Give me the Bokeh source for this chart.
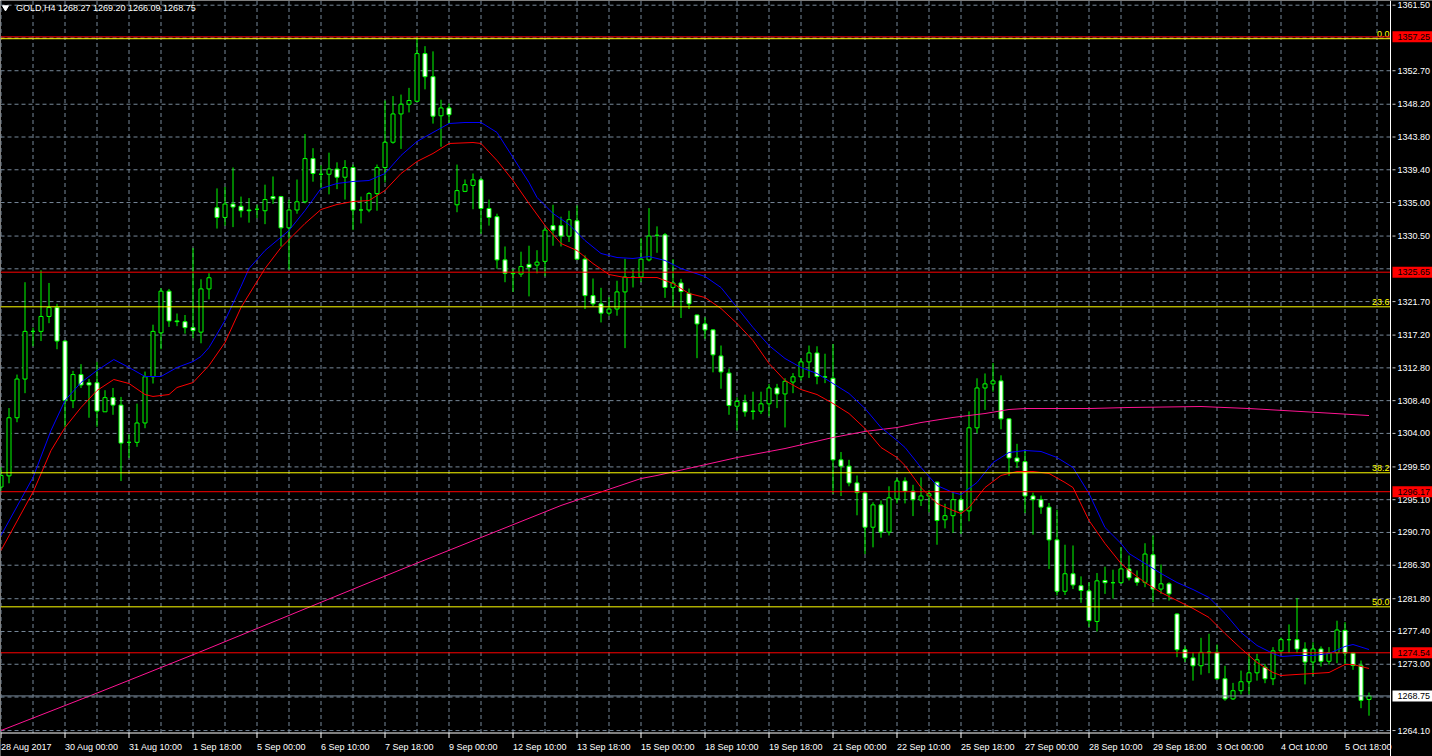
from bokeh.plotting import figure
from bokeh.models import Range1d, ColumnDataSource
from bokeh.embed import file_html
from bokeh.resources import INLINE
from bokeh.core.properties import value

# ---------------- data (GOLD, H4) ----------------
opens = [1296.8, 1298.3, 1306.1, 1311.3, 1317.7, 1317.7, 1319.7, 1320.9, 1316.4, 1308.4,
         1311.9, 1310.8, 1310.8, 1306.9, 1308.8, 1307.8, 1302.8, 1302.8, 1305.4, 1311.6,
         1317.5, 1323.1, 1319.1, 1319.0, 1318.2, 1317.6, 1323.4, 1334.3, 1333.0, 1334.8,
         1334.5, 1334.0, 1334.1, 1333.9, 1335.8, 1335.8, 1331.6, 1334.0, 1335.1, 1340.9,
         1338.8, 1338.8, 1339.5, 1338.4, 1339.7, 1334.0, 1334.0, 1336.2, 1339.7, 1343.1,
         1346.9, 1348.2, 1348.6, 1355.0, 1351.9, 1346.65, 1347.7, 1334.7, 1336.5, 1337.3,
         1338.05, 1334.2, 1333.1, 1327.3, 1325.5, 1325.4, 1326.7, 1326.6, 1327.1, 1331.9,
         1331.9, 1330.5, 1332.55, 1327.4, 1322.5, 1321.4, 1320.15, 1320.7, 1323.0, 1325.0,
         1325.0, 1327.3, 1330.6, 1330.66, 1323.6, 1324.2, 1322.8, 1319.9, 1318.7, 1317.9,
         1314.4, 1312.1, 1307.65, 1308.2, 1307.0, 1306.98, 1307.97, 1310.1, 1309.3, 1310.9,
         1311.6, 1313.6, 1314.8, 1311.6, 1311.4, 1300.45, 1299.6, 1297.35, 1296.0, 1291.4,
         1294.4, 1290.75, 1295.2, 1297.6, 1296.25, 1295.05, 1295.6, 1297.45, 1292.4, 1292.95,
         1295.1, 1293.6, 1304.75, 1310.1, 1310.65, 1311.05, 1305.95, 1300.7, 1300.2, 1295.6,
         1295.1, 1294.1, 1289.7, 1282.8, 1285.15, 1283.55, 1282.85, 1278.75, 1284.25, 1283.95,
         1283.95, 1285.8, 1284.6, 1284.0, 1287.7, 1283.1, 1283.8, 1279.75, 1274.95, 1273.85,
         1272.8, 1274.55, 1274.6, 1271.05, 1268.35, 1269.45, 1270.65, 1271.85, 1272.6, 1271.05,
         1274.8, 1276.3, 1276.3, 1275.05, 1273.3, 1275.05, 1273.4, 1274.55, 1277.55, 1274.5,
         1272.8, 1268.27]
highs = [1299.5, 1307.4, 1311.9, 1324.3, 1318.2, 1325.9, 1324.2, 1321.4, 1316.5, 1312.4,
         1313.3, 1311.3, 1313.6, 1309.8, 1310.1, 1308.9, 1303.9, 1308.0, 1312.3, 1318.6,
         1323.5, 1323.4, 1320.1, 1319.9, 1328.9, 1324.7, 1325.5, 1336.9, 1337.1, 1339.7,
         1335.8, 1335.6, 1334.7, 1337.4, 1338.5, 1335.9, 1335.4, 1338.1, 1344.2, 1342.3,
         1340.0, 1341.7, 1340.4, 1340.7, 1340.1, 1335.8, 1336.4, 1340.1, 1348.7, 1349.3,
         1349.5, 1350.4, 1357.25, 1356.0, 1355.3, 1348.8, 1348.3, 1340.1, 1338.1, 1338.9,
         1338.3, 1335.4, 1333.5, 1329.1, 1326.1, 1328.4, 1329.2, 1328.6, 1331.6, 1334.7,
         1333.1, 1333.9, 1334.6, 1327.9, 1324.8, 1323.55, 1322.3, 1324.5, 1327.45, 1326.0,
         1330.2, 1334.25, 1331.8, 1330.9, 1327.4, 1324.75, 1323.45, 1319.96, 1319.6, 1318.0,
         1315.8, 1312.7, 1308.85, 1309.2, 1309.6, 1309.6, 1310.65, 1310.65, 1311.4, 1312.1,
         1314.1, 1315.8, 1315.7, 1314.7, 1316.0, 1301.5, 1300.45, 1298.35, 1296.1, 1294.75,
         1295.0, 1296.9, 1298.0, 1298.1, 1297.1, 1298.1, 1296.4, 1297.55, 1294.55, 1296.25,
         1296.1, 1306.95, 1311.4, 1312.05, 1313.45, 1311.8, 1306.05, 1302.6, 1301.7, 1296.05,
         1295.65, 1294.65, 1293.75, 1289.05, 1288.95, 1284.8, 1284.0, 1285.25, 1286.1, 1285.7,
         1288.7, 1287.6, 1285.6, 1289.25, 1290.3, 1286.4, 1284.0, 1279.85, 1275.4, 1274.6,
         1276.55, 1277.1, 1275.65, 1272.8, 1270.5, 1272.15, 1274.4, 1274.4, 1273.05, 1275.3,
         1276.6, 1278.35, 1281.9, 1275.95, 1275.95, 1275.4, 1275.3, 1278.85, 1278.65, 1274.6,
         1273.5, 1269.20]
lows = [1296.3, 1297.3, 1305.5, 1309.4, 1315.7, 1316.4, 1318.8, 1315.3, 1304.8, 1307.4,
        1310.1, 1306.1, 1304.9, 1306.9, 1306.5, 1297.6, 1300.7, 1302.2, 1304.7, 1310.7,
        1315.3, 1318.3, 1318.4, 1317.4, 1316.8, 1316.1, 1322.0, 1331.5, 1331.9, 1331.7,
        1333.0, 1332.3, 1332.9, 1332.1, 1334.8, 1329.1, 1326.0, 1333.5, 1334.9, 1337.8,
        1336.9, 1336.1, 1336.8, 1335.4, 1331.3, 1332.2, 1333.7, 1333.9, 1337.7, 1342.9,
        1342.2, 1347.1, 1348.5, 1350.2, 1345.6, 1342.5, 1345.6, 1333.7, 1336.4, 1334.1,
        1330.8, 1331.9, 1326.1, 1324.3, 1323.0, 1325.0, 1322.4, 1325.5, 1325.1, 1329.2,
        1329.1, 1329.7, 1327.3, 1320.7, 1321.05, 1318.9, 1319.8, 1319.8, 1315.45, 1323.6,
        1324.3, 1327.1, 1328.25, 1322.2, 1320.95, 1319.5, 1320.7, 1314.1, 1316.7, 1312.2,
        1310.0, 1306.5, 1304.4, 1306.25, 1305.85, 1306.6, 1306.3, 1307.4, 1304.8, 1309.4,
        1311.1, 1311.45, 1310.6, 1310.75, 1295.9, 1295.6, 1296.9, 1293.0, 1287.8, 1288.7,
        1290.0, 1290.3, 1294.6, 1294.6, 1292.9, 1294.25, 1293.4, 1289.05, 1291.25, 1290.65,
        1290.5, 1292.2, 1304.0, 1307.15, 1309.6, 1304.55, 1298.3, 1299.35, 1293.3, 1290.4,
        1293.2, 1285.8, 1282.25, 1282.3, 1283.1, 1281.25, 1278.0, 1277.4, 1282.45, 1281.8,
        1283.8, 1284.25, 1283.55, 1283.35, 1281.35, 1282.45, 1281.55, 1273.95, 1273.3, 1270.8,
        1271.6, 1271.8, 1270.9, 1268.1, 1268.2, 1268.95, 1268.95, 1270.8, 1270.45, 1270.2,
        1274.5, 1274.5, 1274.5, 1270.3, 1271.5, 1272.7, 1272.95, 1273.15, 1272.95, 1272.25,
        1267.1, 1266.09]
closes = [1298.35, 1306.1, 1311.3, 1317.7, 1317.7, 1319.7, 1320.9, 1316.4, 1308.4, 1311.9,
          1310.5, 1310.5, 1307.0, 1308.8, 1307.8, 1302.7, 1302.8, 1305.4, 1311.6, 1317.7,
          1323.1, 1319.1, 1319.0, 1318.2, 1317.8, 1323.4, 1324.9, 1333.0, 1334.8, 1334.4,
          1333.9, 1333.9, 1334.1, 1335.4, 1335.5, 1331.6, 1334.0, 1335.1, 1340.9, 1338.9,
          1338.8, 1339.5, 1338.4, 1339.7, 1334.0, 1334.0, 1336.2, 1339.7, 1343.1, 1346.9,
          1348.2, 1348.7, 1355.0, 1351.9, 1346.6, 1347.7, 1346.8, 1336.6, 1337.4, 1338.05,
          1334.2, 1333.0, 1327.3, 1325.5, 1325.45, 1326.4, 1326.3, 1327.0, 1331.3, 1331.3,
          1330.5, 1332.7, 1327.4, 1322.5, 1321.4, 1320.15, 1320.7, 1323.0, 1325.0, 1324.95,
          1327.4, 1330.5, 1330.6, 1323.6, 1324.2, 1323.05, 1321.4, 1318.7, 1317.9, 1314.55,
          1312.25, 1307.75, 1308.3, 1306.9, 1306.95, 1307.97, 1310.1, 1309.3, 1311.0, 1311.6,
          1313.6, 1314.8, 1311.65, 1311.55, 1300.45, 1299.6, 1297.35, 1296.05, 1291.4, 1294.4,
          1290.75, 1295.35, 1297.6, 1296.25, 1295.1, 1295.6, 1295.9, 1292.3, 1292.95, 1295.1,
          1293.6, 1304.75, 1310.1, 1310.65, 1311.05, 1305.95, 1300.7, 1300.2, 1295.6, 1295.1,
          1294.1, 1289.7, 1282.8, 1285.15, 1283.65, 1282.9, 1278.85, 1284.2, 1283.95, 1283.95,
          1285.8, 1284.6, 1284.0, 1287.8, 1283.1, 1283.8, 1282.45, 1274.95, 1273.85, 1272.8,
          1274.6, 1274.65, 1271.05, 1268.35, 1269.45, 1270.65, 1271.85, 1273.6, 1271.05, 1274.8,
          1276.3, 1276.3, 1275.05, 1273.3, 1275.05, 1273.4, 1274.55, 1277.6, 1274.5, 1272.85,
          1268.15, 1268.75]

# moving averages (bar index, price)
ma_blue_bar = [0, 3.1, 4, 6.25, 8, 10, 12, 14.1, 16, 18, 20, 22, 24, 25, 26, 28, 30, 31, 33, 36,
               38, 40, 42, 44, 46, 48, 50, 52, 54, 56, 58, 60, 62, 64, 66, 67, 69, 71, 73, 75,
               77, 79, 81, 83, 85, 88, 90, 92, 94, 96, 98, 100, 102, 104, 106, 108, 110, 112, 113, 115,
               117, 119, 120, 122, 124, 126, 128, 130, 132, 134, 136, 138, 140, 141, 143, 145, 147, 149, 151, 153,
               155, 157, 159, 160, 162, 164, 166, 168, 169, 171]
ma_blue_val = [1290.29, 1296.33, 1298.08, 1304.39, 1308.42, 1310.83, 1312.45, 1313.92, 1312.85, 1311.64,
               1311.64, 1312.85, 1313.65, 1314.33, 1315.53, 1319.16, 1323.73, 1326.14, 1328.56, 1331.25,
               1333.93, 1336.89, 1337.56, 1337.83, 1337.96, 1338.90, 1341.32, 1343.20, 1344.41, 1345.61,
               1345.75, 1345.75, 1344.41, 1341.05, 1337.69, 1335.68, 1333.53, 1332.05, 1329.90, 1328.16,
               1327.62, 1327.49, 1327.75, 1327.22, 1326.14, 1325.07, 1323.59, 1320.91, 1318.22, 1315.80,
               1314.06, 1312.85, 1312.04, 1310.70, 1309.36, 1307.34, 1304.79, 1303.05, 1302.11, 1299.42,
               1297.00, 1296.06, 1295.79, 1297.41, 1300.09, 1301.44, 1301.70, 1301.57, 1300.76, 1299.42,
               1295.93, 1291.36, 1289.22, 1287.87, 1286.53, 1285.19, 1283.98, 1283.04, 1281.96, 1279.82,
               1277.27, 1275.52, 1274.44, 1274.04, 1274.18, 1274.18, 1274.44, 1275.39, 1275.65, 1274.98]
ma_red_bar = [0, 4.1, 6.25, 8, 10, 12, 14.1, 16, 18, 19, 21, 22, 24, 26, 28, 30, 33, 35, 38, 40,
              42, 44, 46, 48, 50, 52, 54, 56, 59, 60, 62, 64, 66, 68, 70, 72, 74, 76, 78, 80,
              82, 84, 86, 88, 90, 92, 94, 96, 98, 100, 102, 104, 106, 108, 110, 112, 113, 115, 117, 119,
              120, 121, 123, 125, 127, 129, 131, 133, 134, 136, 138, 140, 141, 143, 145, 147, 149, 151, 153, 155,
              157, 159, 160, 162, 164, 166, 168, 169, 171]
ma_red_val = [1288.28, 1296.33, 1301.70, 1304.79, 1307.48, 1309.76, 1311.24, 1310.70, 1309.22, 1308.96,
              1309.22, 1310.16, 1310.83, 1313.12, 1316.21, 1320.91, 1326.14, 1328.96, 1332.19, 1334.07,
              1334.74, 1335.14, 1335.27, 1336.62, 1338.90, 1340.51, 1341.59, 1342.93, 1343.06, 1342.93,
              1340.65, 1337.96, 1334.87, 1331.92, 1329.50, 1328.56, 1326.81, 1325.34, 1324.93, 1324.93,
              1324.93, 1324.13, 1322.79, 1322.25, 1320.77, 1318.76, 1316.47, 1313.39, 1311.10, 1309.89,
              1309.22, 1308.02, 1306.67, 1304.66, 1302.11, 1300.76, 1299.69, 1296.73, 1294.59, 1293.65,
              1293.24, 1294.05, 1296.73, 1298.35, 1298.88, 1298.88, 1298.62, 1297.41, 1296.73, 1292.30,
              1289.22, 1286.53, 1285.59, 1283.98, 1282.64, 1281.56, 1280.49, 1279.28, 1277.13, 1275.12,
              1273.24, 1271.89, 1271.49, 1271.63, 1271.76, 1271.89, 1272.97, 1272.97, 1272.43]
ma_pink_bar = [0, 12.5, 25, 37.5, 50, 60, 70, 80, 82, 92, 98, 104, 108, 112, 115, 119, 123, 126,
               128, 136, 141, 150, 156, 162.5, 171]
ma_pink_val = [1264.10, 1269.34, 1274.71, 1280.22, 1285.72, 1290.02, 1294.32, 1297.94, 1298.35,
               1300.76, 1301.97, 1303.45, 1304.26, 1304.79, 1305.46, 1306.14, 1306.67, 1307.21,
               1307.34, 1307.34, 1307.48, 1307.61, 1307.34, 1306.94, 1306.40]

# horizontal levels
red_levels = [1357.25, 1325.65, 1296.17, 1274.54]
bid_price = 1268.75
fib_levels = [1357.00, 1321.00, 1298.71, 1280.71, 1262.75]
fib_texts = ["0.0", "23.6", "38.2", "50.0", "61.8"]

# axis ticks / labels
price_ticks = [1361.50, 1352.70, 1348.20, 1343.80, 1339.40, 1335.00, 1330.50, 1321.70, 1317.20,
               1312.80, 1308.40, 1304.00, 1299.50, 1295.10, 1290.70, 1286.30, 1281.80, 1277.40,
               1273.00, 1264.10]
hidden_grid_prices = [1357.10, 1326.10, 1268.60]
date_tick_bars = list(range(0, 169, 8))
date_labels = ["28 Aug 2017", "30 Aug 00:00", "31 Aug 10:00", "1 Sep 18:00", "5 Sep 00:00",
               "6 Sep 10:00", "7 Sep 18:00", "9 Sep 00:00", "12 Sep 10:00", "13 Sep 18:00",
               "15 Sep 00:00", "18 Sep 10:00", "19 Sep 18:00", "21 Sep 00:00", "22 Sep 10:00",
               "25 Sep 18:00", "27 Sep 00:00", "28 Sep 10:00", "29 Sep 18:00", "3 Oct 00:00",
               "4 Oct 10:00", "5 Oct 18:00"]
title_text = "GOLD,H4  1268.27 1269.20 1266.09 1268.75"

# ---------------- layout (whole canvas is the frame) ----------------
W, H = 1432, 756
BAR_PX = 8.0          # pixels per bar
PX_PER_USD = 7.447    # pixels per dollar
PRICE_TOP = 1362.131  # price at the top edge
X0 = -0.5 / BAR_PX
X1 = X0 + W / BAR_PX
Y1 = PRICE_TOP
Y0 = PRICE_TOP - H / PX_PER_USD


def xs(px):
    return X0 + px / BAR_PX


def ys(py):
    return PRICE_TOP - py / PX_PER_USD


CHART_R = xs(1390)     # right edge of the chart area (price scale starts here)
CHART_B = ys(732.5)    # bottom edge of the chart area (time scale starts here)

FONT = "Liberation Sans"
FS = "9px"
LIME = "#00FF00"
GRID = "#778899"

p = figure(width=W, height=H, output_backend="svg", toolbar_location=None,
           x_range=Range1d(X0, X1), y_range=Range1d(Y0, Y1),
           x_axis_location=None, y_axis_location=None, title=None,
           background_fill_color="#000000", border_fill_color="#000000",
           min_border=0, min_border_left=0, min_border_right=0,
           min_border_top=0, min_border_bottom=0)
p.outline_line_color = None
p.xgrid.visible = False
p.ygrid.visible = False

# ---- grid ----
grid_prices = sorted(price_ticks + hidden_grid_prices)
p.segment(x0=[X0] * len(grid_prices), y0=grid_prices, x1=[CHART_R] * len(grid_prices), y1=grid_prices,
          line_color=GRID, line_width=1, line_dash="4 3")
grid_bars = list(range(0, 173, 4))
p.segment(x0=grid_bars, y0=[CHART_B] * len(grid_bars), x1=grid_bars, y1=[Y1] * len(grid_bars),
          line_color=GRID, line_width=1, line_dash="4 3")

# ---- candles ----
idx = list(range(len(opens)))
src = ColumnDataSource(dict(
    x=idx, o=opens, h=highs, l=lows, c=closes,
    top=[max(a, b) for a, b in zip(opens, closes)],
    bot=[min(a, b) for a, b in zip(opens, closes)],
    fill=["#000000" if c >= o else "#FFFFFF" for o, c in zip(opens, closes)],
))
p.segment(x0="x", y0="h", x1="x", y1="l", line_color=LIME, line_width=1, source=src)
p.vbar(x="x", width=0.5, top="top", bottom="bot", fill_color="fill",
       line_color=LIME, line_width=1, source=src)

# ---- moving averages ----
p.line(ma_pink_bar, ma_pink_val, line_color="#FF1493", line_width=1)
p.line(ma_red_bar, ma_red_val, line_color="#FF0000", line_width=1)
p.line(ma_blue_bar, ma_blue_val, line_color="#0000FF", line_width=1)

# ---- horizontal objects ----
n = len(fib_levels)
p.segment(x0=[X0] * n, y0=fib_levels, x1=[CHART_R] * n, y1=fib_levels,
          line_color="#FFFF00", line_width=1)
p.text(x=[xs(1389)] * n, y=fib_levels, text=fib_texts, text_align="right",
       text_baseline="bottom", y_offset=-2, text_color="#FFFF00",
       text_font=value(FONT), text_font_size=FS)
m = len(red_levels)
p.segment(x0=[X0] * m, y0=red_levels, x1=[CHART_R] * m, y1=red_levels,
          line_color="#FF0000", line_width=1)
p.segment(x0=[X0], y0=[bid_price], x1=[CHART_R], y1=[bid_price],
          line_color=GRID, line_width=1)

# mask the time-scale strip (chart area ends there)
p.quad(left=[X0], right=[X1], top=[CHART_B], bottom=[Y0], fill_color="#000000", line_color=None)
p.quad(left=[CHART_R], right=[X1], top=[Y1], bottom=[Y0], fill_color="#000000", line_color=None)

# ---- price scale (right) ----
p.segment(x0=[CHART_R], y0=[Y0], x1=[CHART_R], y1=[Y1], line_color="#FFFFFF", line_width=1)
k = len(price_ticks)
p.segment(x0=[xs(1392)] * k, y0=price_ticks, x1=[xs(1395)] * k, y1=price_ticks,
          line_color="#C8C8C8", line_width=1)
p.text(x=[xs(1397)] * k, y=price_ticks, text=[f"{t:.2f}" for t in price_ticks],
       text_align="left", text_baseline="middle", text_color="#FFFFFF",
       text_font=value(FONT), text_font_size=FS)

# price boxes of the horizontal lines and the bid
box_prices = red_levels + [bid_price]
box_fill = ["#FF0000"] * m + ["#FFFFFF"]
half = 5.5 / PX_PER_USD
p.quad(left=[xs(1392)] * (m + 1), right=[X1] * (m + 1),
       top=[v + half for v in box_prices], bottom=[v - half for v in box_prices],
       fill_color=box_fill, line_color=None)
p.text(x=[xs(1397)] * (m + 1), y=box_prices, text=[f"{v:.2f}" for v in box_prices],
       text_align="left", text_baseline="middle", text_color="#000000",
       text_font=value(FONT), text_font_size=FS)

# ---- time scale (bottom) ----
p.segment(x0=[X0], y0=[CHART_B], x1=[CHART_R], y1=[CHART_B], line_color="#FFFFFF", line_width=1)
d = len(date_tick_bars)
p.segment(x0=date_tick_bars, y0=[CHART_B] * d, x1=date_tick_bars, y1=[ys(737.5)] * d,
          line_color="#FFFFFF", line_width=1)
p.text(x=date_tick_bars, y=[ys(746)] * d, text=date_labels, text_align="left",
       text_baseline="alphabetic", text_color="#FFFFFF",
       text_font=value(FONT), text_font_size=FS)

# ---- title ----
p.scatter(x=[xs(5)], y=[ys(7)], marker="inverted_triangle", size=6,
          fill_color="#FFFFFF", line_color="#FFFFFF")
p.text(x=[xs(15.5)], y=[ys(7.5)], text=[title_text], text_align="left",
       text_baseline="middle", text_color="#FFFFFF",
       text_font=value(FONT), text_font_size=FS)

open("out.html", "w").write(file_html(p, INLINE))
